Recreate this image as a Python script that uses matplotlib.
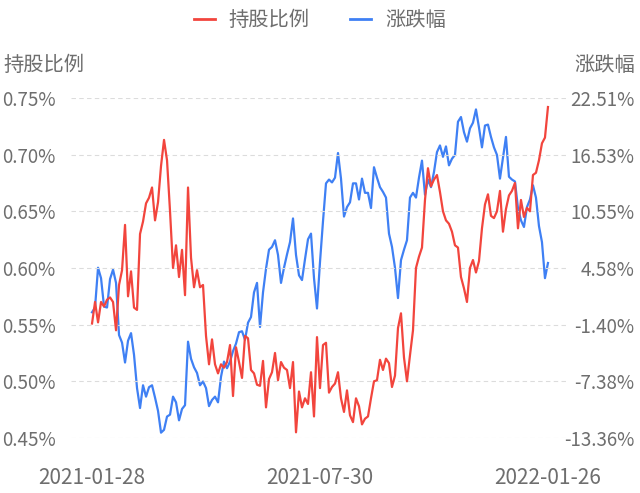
import matplotlib
matplotlib.use("Agg")
import matplotlib.pyplot as plt
from matplotlib.lines import Line2D
from matplotlib.ticker import FuncFormatter

plt.rcParams['font.family'] = ['Noto Sans CJK SC', 'DejaVu Sans']

holding_ratio = [
    0.551, 0.570, 0.552, 0.570, 0.566, 0.572, 0.574, 0.570, 0.545, 0.585,
    0.598, 0.638, 0.575, 0.597, 0.565, 0.563, 0.630, 0.641, 0.657, 0.662,
    0.671, 0.642, 0.658, 0.690, 0.713, 0.695, 0.650, 0.600, 0.620, 0.592,
    0.616, 0.576, 0.671, 0.609, 0.583, 0.598, 0.583, 0.585, 0.540, 0.515,
    0.537, 0.515, 0.507, 0.515, 0.512, 0.517, 0.532, 0.487, 0.530, 0.517,
    0.503, 0.540, 0.538, 0.510, 0.507, 0.497, 0.496, 0.518, 0.477, 0.502,
    0.508, 0.525, 0.501, 0.517, 0.512, 0.510, 0.494, 0.517, 0.455, 0.491,
    0.477, 0.485, 0.480, 0.508, 0.469, 0.539, 0.494, 0.532, 0.534, 0.490,
    0.495, 0.498, 0.508, 0.485, 0.473, 0.492, 0.470, 0.464, 0.485, 0.478,
    0.462, 0.467, 0.469, 0.485, 0.500, 0.501, 0.519, 0.510, 0.520, 0.516,
    0.495, 0.505, 0.547, 0.560, 0.521, 0.500, 0.523, 0.545, 0.600, 0.610,
    0.618, 0.660, 0.688, 0.672, 0.678, 0.682, 0.667, 0.650, 0.642, 0.639,
    0.632, 0.620, 0.618, 0.592, 0.582, 0.570, 0.600, 0.607, 0.596, 0.606,
    0.635, 0.656, 0.665, 0.646, 0.644, 0.650, 0.668, 0.632, 0.652, 0.664,
    0.668, 0.675, 0.635, 0.660, 0.645, 0.653, 0.650, 0.682, 0.684, 0.695,
    0.710, 0.715, 0.742,
]
price_change = [
    -0.1, 0.4, 4.6, 3.5, 0.5, 0.4, 3.4, 4.4, 3.0, -2.5,
    -3.3, -5.4, -3.1, -2.3, -4.6, -8.1, -10.2, -7.8, -9.0, -8.0,
    -7.8, -9.1, -10.5, -12.8, -12.5, -11.1, -10.9, -9.0, -9.6, -11.5,
    -10.3, -9.9, -3.2, -5.0, -5.9, -6.5, -7.8, -7.4, -8.1, -10.0,
    -9.35, -9.0, -9.6, -6.9, -5.3, -6.0, -5.3, -4.2, -3.4, -2.2,
    -2.1, -3.0, -1.2, -0.6, 2.0, 3.0, -1.65, 2.0, 4.5, 6.5,
    6.8, 7.5, 5.95, 3.0, 4.6, 6.0, 7.3, 9.8, 5.95, 3.8,
    3.3, 5.5, 7.6, 8.2, 3.5, 0.3, 5.2, 9.5, 13.5, 13.9,
    13.6, 14.1, 16.7, 14.0, 10.0, 11.0, 11.5, 13.5, 13.5, 11.8,
    14.0, 12.5, 12.5, 10.9, 15.2, 14.1, 13.1, 12.6, 12.0, 8.2,
    6.8, 4.6, 1.4, 5.4, 6.5, 7.5, 12.0, 12.5, 12.0, 14.1,
    15.9, 12.3, 13.9, 13.1, 14.7, 16.8, 17.5, 16.3, 17.4, 15.4,
    16.1, 16.5, 20.0, 20.5, 18.9, 17.9, 19.3, 19.9, 21.3, 19.4,
    17.3, 19.6, 19.7, 18.4, 17.3, 16.5, 14.0, 16.2, 18.4, 14.2,
    13.9, 13.7, 10.9, 9.6, 8.9, 11.0, 11.8, 13.3, 12.0, 9.0,
    7.3, 3.5, 5.1,
]
date_labels = ["2021-01-28", "2021-07-30", "2022-01-26"]
left_ticks = [0.45, 0.50, 0.55, 0.60, 0.65, 0.70, 0.75]
right_ticks = [-13.36, -7.38, -1.40, 4.58, 10.55, 16.53, 22.51]

red = "#f2453d"
blue = "#3f80f4"
grey = "#6e6e6e"
fs = 13.5      # y tick labels
fs_cn = 14.6   # chinese titles / legend
fs_date = 15

n = len(holding_ratio)
x = list(range(n))

fig = plt.figure(figsize=(6.4, 4.93), dpi=100)
ax1 = fig.add_axes([0.111, 0.1116, 0.778, 0.6897])
ax2 = ax1.twinx()

ax1.plot(x, holding_ratio, color=red, linewidth=1.6, zorder=3)
ax2.plot(x, price_change, color=blue, linewidth=1.6, zorder=2)

ax1.set_xlim(-7, n - 1 + 7)
ax1.set_ylim(left_ticks[0], left_ticks[-1])
ax2.set_ylim(right_ticks[0], right_ticks[-1])

ax1.set_yticks(left_ticks)
ax1.yaxis.set_major_formatter(FuncFormatter(lambda v, p: f"{v:.2f}%"))
ax2.set_yticks(right_ticks)
ax2.set_yticklabels([f"{v:.2f}%" for v in right_ticks])

ax1.set_xticks([0, (n - 1) / 2, n - 1])
ax1.set_xticklabels(date_labels)

# grid and axis styling
ax1.grid(axis="y", color="#dcdcdc", linestyle=(0, (4, 3)), linewidth=0.8)
for a in (ax1, ax2):
    for s in a.spines.values():
        s.set_visible(False)
    a.tick_params(length=0, labelsize=fs, labelcolor=grey)
ax1.tick_params(axis="y", pad=11)
ax1.tick_params(axis="x", pad=21, labelsize=fs_date)
ax2.tick_params(axis="y", pad=47)
for lbl in ax2.get_yticklabels():
    lbl.set_horizontalalignment("right")
ax1.set_zorder(ax2.get_zorder() + 1)
ax1.patch.set_visible(False)

# axis titles
fig.text(0.006, 0.868, "持股比例", fontsize=fs_cn, color=grey, ha="left", va="center")
fig.text(0.992, 0.868, "涨跌幅", fontsize=fs_cn, color=grey, ha="right", va="center")

# legend
handles = [Line2D([0], [0], color=red, linewidth=2),
           Line2D([0], [0], color=blue, linewidth=2)]
fig.legend(handles, ["持股比例", "涨跌幅"], loc="center", bbox_to_anchor=(0.5, 0.958),
           ncol=2, frameon=False, fontsize=fs_cn, labelcolor=grey,
           handlelength=1.0, handletextpad=0.7, columnspacing=2.0)

fig.savefig("out.png", dpi=100)
